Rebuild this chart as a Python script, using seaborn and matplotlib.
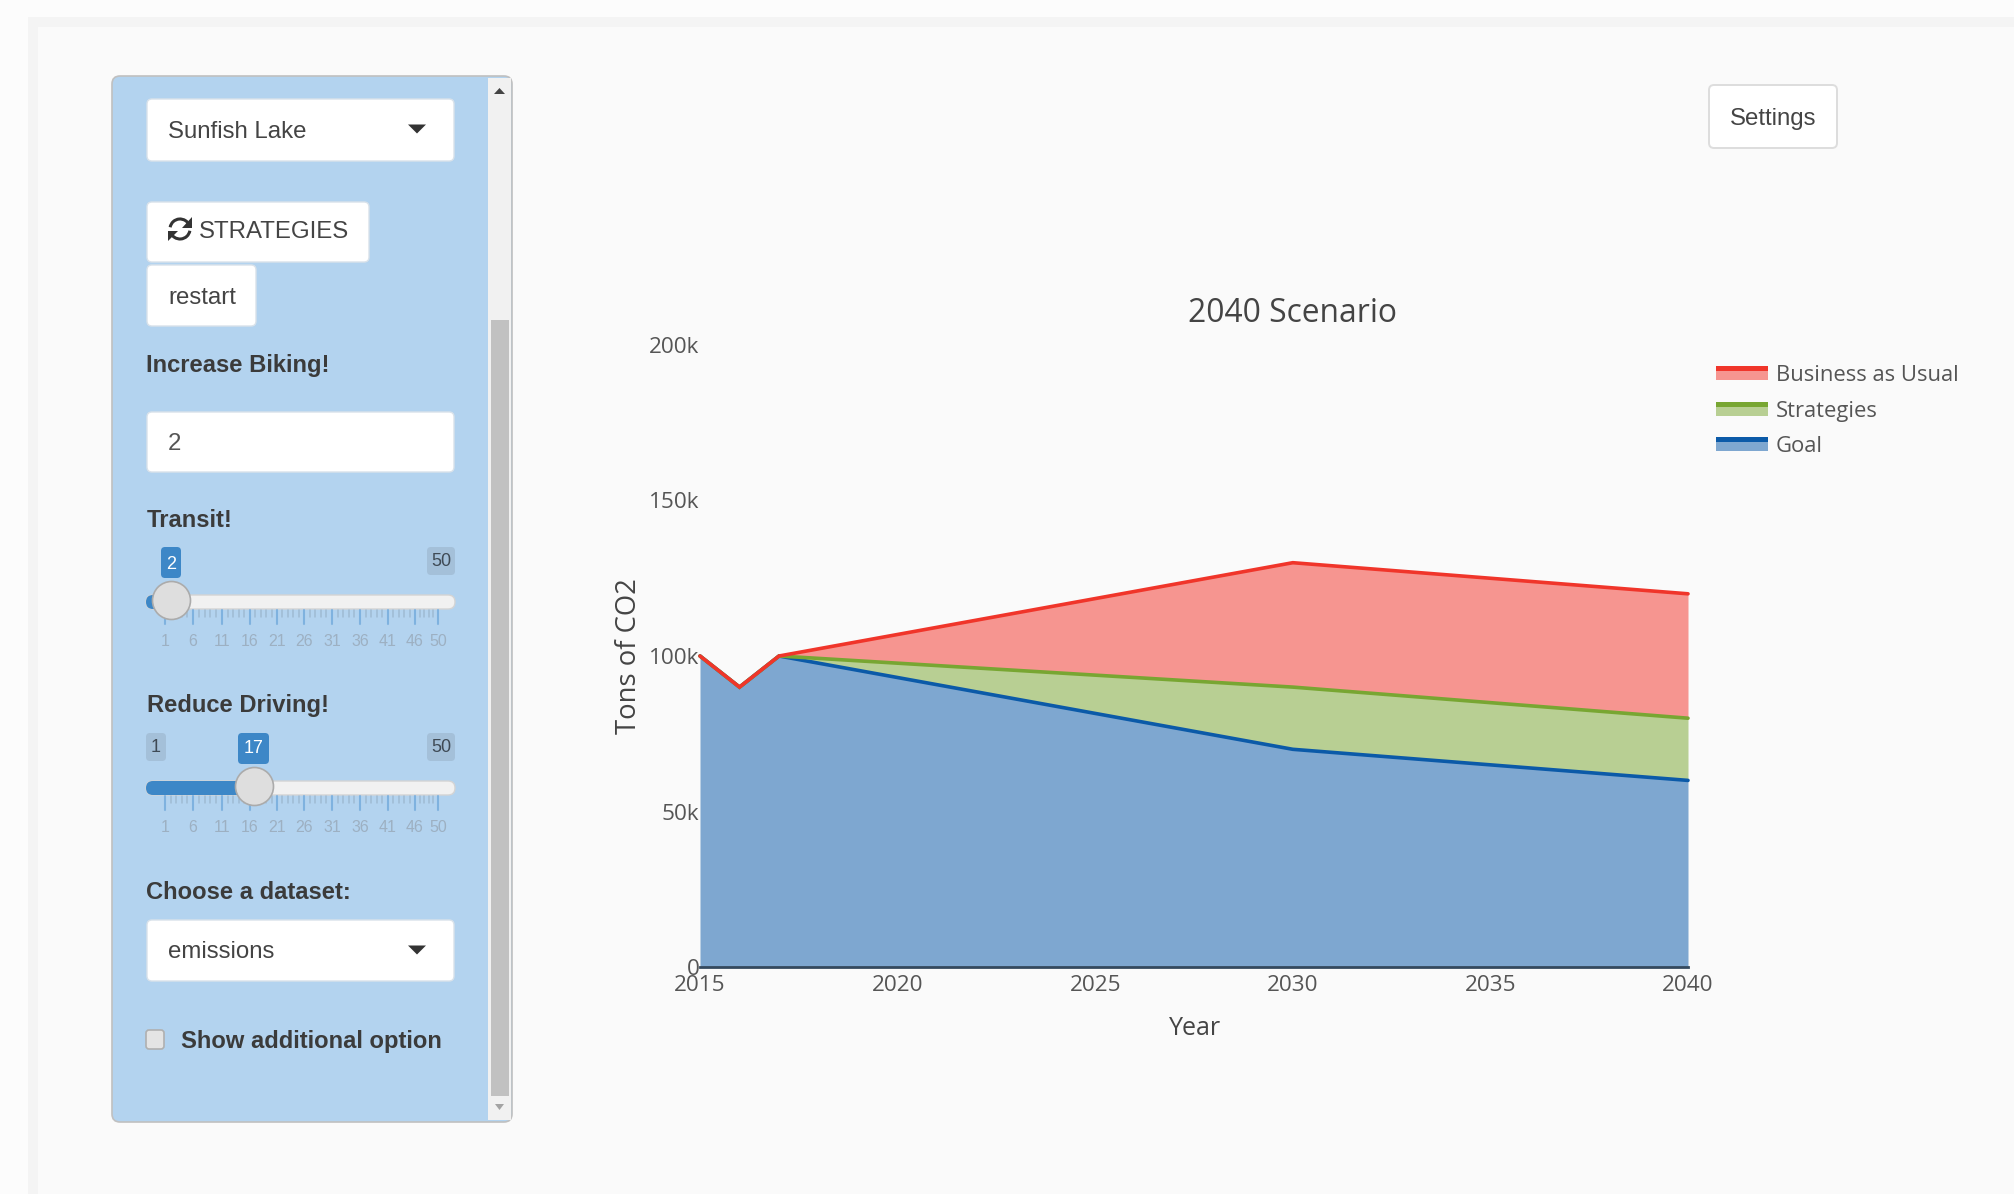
import matplotlib
matplotlib.use("Agg")
import matplotlib.pyplot as plt
import pandas as pd
import seaborn as sns
from matplotlib.patches import Arc, FancyBboxPatch, Polygon, Rectangle

years = [2015, 2016, 2017, 2030, 2040]
business_as_usual = [100000, 90000, 100000, 130000, 120000]
strategies = [100000, 90000, 100000, 90000, 80000]
goal = [100000, 90000, 100000, 70000, 60000]

series_names = ["Business as Usual", "Strategies", "Goal"]
line_colors = ["#f0352a", "#78a632", "#0b5aa8"]
fill_colors = ["#f69590", "#b8cf93", "#7ea7d0"]

x_ticks = [2015, 2020, 2025, 2030, 2035, 2040]
y_ticks = [0, 50000, 100000, 150000, 200000]
y_tick_labels = ["0", "50k", "100k", "150k", "200k"]

slider_labels = ["1", "6", "11", "16", "21", "26", "31", "36", "41", "46", "50"]
slider_label_x = [165, 193, 222, 250, 277, 304, 332, 360, 388, 415, 438]

W, H = 2014, 1194
UI = "Liberation Sans"
CHART = "Open Sans"
TEXT = "#3b3b3b"
CHART_TEXT = "#555555"

sns.set_theme(style="white")
plt.rcParams["font.family"] = [UI, "DejaVu Sans"]

df = pd.DataFrame({"Year": years, "Business as Usual": business_as_usual,
                   "Strategies": strategies, "Goal": goal})

fig = plt.figure(figsize=(W / 100, H / 100), dpi=100, facecolor="#fcfcfc")

# page chrome and shiny widgets, in pixel coordinates
ui = fig.add_axes([0, 0, 1, 1])
ui.set_xlim(0, W)
ui.set_ylim(H, 0)
ui.axis("off")


def px(size):
    return size * 0.72


def box(x0, y0, x1, y1, color, edge="none", r=5, lw=1.0, z=2):
    ui.add_patch(FancyBboxPatch((x0, y0), x1 - x0, y1 - y0,
                                boxstyle=f"round,pad=0,rounding_size={r}",
                                fc=color, ec=edge, lw=lw, zorder=z))


def label(x, y, s, size=24, color=TEXT, weight="normal", ha="left", family=UI, z=6, **kw):
    ui.text(x, y + 2.5, s, fontsize=px(size), color=color, fontweight=weight, ha=ha,
            va="center", family=family, zorder=z, **kw)


def caret(x, y, w=9, h=9, color="#333333"):
    ui.add_patch(Polygon([(x - w, y - h / 2), (x + w, y - h / 2), (x, y + h / 2)],
                         fc=color, ec="none", zorder=6))


def slider(y_track, handle_x, fill_to, y_tick0, y_label):
    box(146, y_track, 455, y_track + 14, "#f1f1f1", edge="#d4d4d4", r=7, z=3)
    box(146, y_track, fill_to, y_track + 14, "#3d87c7", r=7, z=3)
    for i, tx in enumerate(slider_label_x):
        ui.plot([tx, tx], [y_tick0, y_tick0 + 14], color="#7fb2df", lw=1.5, zorder=3)
        label(tx, y_label - 2, slider_labels[i], size=16, color="#9db0c2", ha="center")
        if i < len(slider_label_x) - 1:
            step = (slider_label_x[i + 1] - tx) / 5
            for k in range(1, 5):
                ui.plot([tx + k * step] * 2, [y_tick0, y_tick0 + 7], color="#9fbbd3", lw=1.1, zorder=3)
    ui.scatter([handle_x], [y_track + 5], s=748, c="#dedede", edgecolors="#ababab",
               linewidths=1.2, zorder=5)


ui.add_patch(Rectangle((28, 17), W, H, fc="#f4f4f4", ec="none", zorder=0))
ui.add_patch(Rectangle((38, 27), W, H, fc="#fafafa", ec="none", zorder=0))

# side panel
box(112, 76, 512, 1122, "#b3d3ef", edge="#c0c0c0", r=8, lw=1.2, z=1)
ui.add_patch(Rectangle((488, 78), 23, 1042, fc="#f1f1f1", ec="none", zorder=2))
ui.add_patch(Rectangle((491, 320), 18, 776, fc="#c1c1c1", ec="none", zorder=3))
ui.add_patch(Polygon([(494, 94), (505, 94), (499.5, 88)], fc="#444444", ec="none", zorder=4))
ui.add_patch(Polygon([(495, 1104), (504, 1104), (499.5, 1110)], fc="#a3a3a3", ec="none", zorder=4))

# dropdowns, buttons and input
box(147, 99, 454, 161, "white", edge="#d9e2ea")
label(168, 129, "Sunfish Lake", color="#444444")
caret(417, 129)

box(147, 202, 369, 262, "white", edge="#d9e2ea")
ui.add_patch(Arc((180, 229), 20, 20, theta1=190, theta2=340, color="#333333", lw=2.2, zorder=6))
ui.add_patch(Arc((180, 229), 20, 20, theta1=10, theta2=160, color="#333333", lw=2.2, zorder=6))
ui.add_patch(Polygon([(192, 217), (192, 228), (182, 228)], fc="#333333", ec="none", zorder=6))
ui.add_patch(Polygon([(168, 241), (168, 231), (178, 231)], fc="#333333", ec="none", zorder=6))
label(199, 230, "STRATEGIES", color="#444444")

box(147, 265, 256, 326, "white", edge="#d9e2ea")
label(168, 295, "restart", color="#444444")

label(146, 363, "Increase Biking!", weight="bold", size=23.8)
box(147, 412, 454, 472, "white", edge="#d9e2ea")
label(168, 442, "2", color="#555555")

# sliders
label(147, 518, "Transit!", weight="bold", size=23.8)
box(161, 547, 181, 578, "#3d87c7", r=4, z=4)
label(171, 562, "2", size=18, color="white", ha="center")
box(427, 547, 455, 575, "#a4c0d9", r=4, z=4)
label(441, 559, "50", size=18, color="#3f4a55", ha="center")
slider(595, 171, 165, 610, 641)

label(147, 703, "Reduce Driving!", weight="bold", size=23.8)
box(146, 733, 166, 761, "#a4c0d9", r=4, z=4)
label(156, 745, "1", size=18, color="#3f4a55", ha="center")
box(238, 733, 269, 764, "#3d87c7", r=4, z=4)
label(254, 746, "17", size=18, color="white", ha="center")
box(427, 733, 455, 761, "#a4c0d9", r=4, z=4)
label(441, 745, "50", size=18, color="#3f4a55", ha="center")
slider(781, 254, 254, 796, 827)

label(146, 890, "Choose a dataset:", weight="bold", size=23.8)
box(147, 920, 454, 981, "white", edge="#d9e2ea")
label(168, 950, "emissions", color="#444444")
caret(417, 950)

box(146, 1030, 164, 1049, "#e4e4e4", edge="#b0b0b0", r=3, lw=1.2)
label(181, 1039, "Show additional option", weight="bold", size=23.8)

# settings button
box(1709, 85, 1837, 148, "white", edge="#dddddd", lw=1.4)
label(1773, 116, "Settings", color="#444444", ha="center")

# the chart itself
ax = fig.add_axes([700 / W, 1 - 967 / H, (1688 - 700) / W, (967 - 345) / H])
ax.patch.set_alpha(0)
lower = [[0] * len(years), goal, strategies]
upper = [goal, strategies, business_as_usual]
for i, (lo, hi) in enumerate(zip(lower, upper)):
    ax.fill_between(years, lo, hi, color=fill_colors[2 - i], lw=0, zorder=1)
for name, color in zip(series_names[::-1], line_colors[::-1]):
    sns.lineplot(data=df, x="Year", y=name, ax=ax, color=color, lw=2.6, zorder=3,
                 solid_joinstyle="miter", clip_on=False, errorbar=None)

ax.set_xlim(2015, 2040)
ax.set_ylim(0, 200000)
ax.set_xticks(x_ticks)
ax.set_yticks(y_ticks)
ax.set_yticklabels(y_tick_labels)
ax.tick_params(axis="both", length=0, labelsize=px(22.5), labelcolor=CHART_TEXT)
ax.tick_params(axis="x", pad=6)
ax.tick_params(axis="y", pad=0.5)
for tick in ax.get_xticklabels() + ax.get_yticklabels():
    tick.set_family(CHART)
sns.despine(ax=ax, left=True, top=True, right=True)
ax.spines["bottom"].set_color("#34495e")
ax.spines["bottom"].set_linewidth(2)
ax.set_xlabel("")
ax.set_ylabel("")

label(1292, 311, "2040 Scenario", size=31.8, color="#444444", ha="center", family=CHART)
label(1195, 1026, "Year", size=25, color="#444444", ha="center", family=CHART)
label(629, 654, "Tons of CO2", size=27.5, color="#444444", ha="center", family=CHART, rotation=90)

# legend swatches
for name, line, fill, y in zip(series_names, line_colors, fill_colors, [366, 402, 437]):
    ui.add_patch(Rectangle((1716, y), 52, 14, fc=fill, ec="none", zorder=3))
    ui.add_patch(Rectangle((1716, y), 52, 4.5, fc=line, ec="none", zorder=4))
    label(1776, y + 7, name, size=22, color="#555555", family=CHART)

fig.savefig("out.png", dpi=100, facecolor=fig.get_facecolor())
